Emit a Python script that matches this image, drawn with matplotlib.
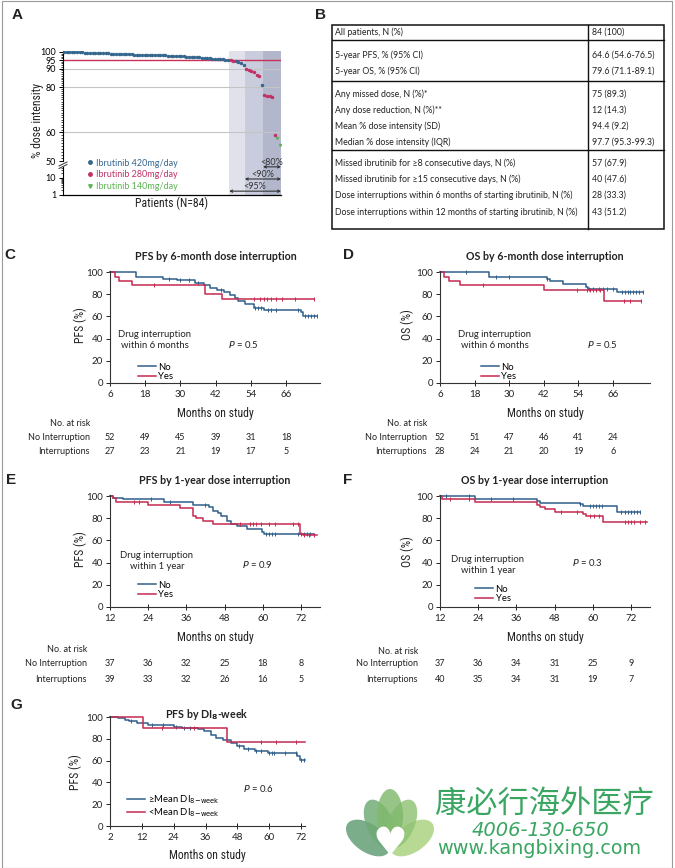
import numpy as np
import matplotlib
matplotlib.use('Agg')
import matplotlib.pyplot as plt
import matplotlib.transforms as mtransforms
from matplotlib import font_manager
from matplotlib.lines import Line2D
from matplotlib.patches import Ellipse, Rectangle
from matplotlib.ticker import FixedLocator, NullFormatter

plt.rcParams['font.family'] = ['Lato', 'DejaVu Sans']
plt.rcParams['mathtext.fontset'] = 'dejavusans'

names = {f.name for f in font_manager.fontManager.ttflist}
COND = 'Lato'
for cand in ['Liberation Sans Narrow', 'Roboto Condensed', 'Open Sans Condensed']:
    if cand in names:
        COND = cand
        break

# ---------------- data ----------------
# A: % dose intensity per patient (sorted) and ibrutinib dose level
dose_intensity = [100.0, 100.0, 99.9, 99.9, 99.8, 99.8, 99.7, 99.7, 99.6, 99.6,
                  99.5, 99.5, 99.4, 99.4, 99.3, 99.3, 99.2, 99.1, 99.0, 99.0,
                  98.9, 98.8, 98.8, 98.7, 98.6, 98.5, 98.4, 98.3, 98.2, 98.1,
                  98.3, 98.2, 98.1, 98.0, 98.0, 97.9, 97.9, 97.8, 97.8, 97.8,
                  97.7, 97.7, 97.6, 97.5, 97.4, 97.3, 97.2, 97.1, 97.0, 97.0,
                  96.9, 96.9, 96.8,
                  96.2, 96.1, 96.0, 96.0, 95.9, 95.8, 95.7, 95.6, 95.5, 95.3,
                  95.0, 94.8, 94.5, 94.2, 93.8, 93.0, 92.0,
                  89.6, 89.3, 88.5, 87.8, 86.5, 86.0,
                  81.0,
                  76.3, 75.8, 75.5, 75.3, 59.0,
                  58.0, 55.5]
dose_level = [420] * 64 + [280, 280, 420, 420, 420, 420] + [280] * 6 + [420] + [280] * 5 + [140, 140]
dose_labels = {420: 'Ibrutinib 420mg/day', 280: 'Ibrutinib 280mg/day', 140: 'Ibrutinib 140mg/day'}
thresholds = [95, 90, 80]
a_major = [50, 60, 80, 90, 95, 100]

# B: summary table
table_labels = ["All patients, N (%)",
                "5-year PFS, % (95% CI)",
                "5-year OS, % (95% CI)",
                "Any missed dose, N (%)*",
                "Any dose reduction, N (%)**",
                "Mean % dose intensity (SD)",
                "Median % dose intensity (IQR)",
                "Missed ibrutinib for \u22658 consecutive days, N (%)",
                "Missed ibrutinib for \u226515 consecutive days, N (%)",
                "Dose interruptions within 6 months of starting ibrutinib, N (%)",
                "Dose interruptions within 12 months of starting ibrutinib, N (%)"]
table_values = ["84 (100)", "64.6 (54.6-76.5)", "79.6 (71.1-89.1)", "75 (89.3)", "12 (14.3)",
                "94.4 (9.2)", "97.7 (95.3-99.3)", "57 (67.9)", "40 (47.6)", "28 (33.3)", "43 (51.2)"]

# KM curves: step times, survival (%), censor times
C_t_no = [6, 15, 24, 29, 35, 38, 40, 42.5, 45, 47, 48.5, 49.5, 52, 55, 58.5, 71, 71.8, 76.5]
C_s_no = [100, 96, 94, 92.5, 90, 88, 86, 84, 82, 79, 77, 74, 71, 68, 66, 64, 60, 60]
C_c_no = [26, 30, 33, 36, 44, 55.5, 56.5, 57.5, 60, 61, 62.5, 70, 72.5, 73.5, 74.5, 75.5, 76.5]
C_t_yes = [6, 7.7, 9, 13.4, 38.5, 44.3, 75.6]
C_s_yes = [100, 96, 92, 88, 80, 76, 76]
C_c_yes = [21, 55, 57, 58.5, 59.5, 61, 62.5, 64.5, 69, 75.6]

D_t_no = [6, 23, 43, 44, 48.5, 56.5, 57.2, 67.5, 76.5]
D_s_no = [100, 96, 94, 92, 89, 87, 85, 82, 82]
D_c_no = [15, 25.5, 30, 43, 57.5, 59, 61, 62.5, 64, 66, 69, 70, 71, 72, 73, 74, 75, 76.5]
D_t_yes = [6, 7.5, 9, 13, 42, 62.8, 75.6]
D_s_yes = [100, 96, 92, 88, 84, 74, 74]
D_c_yes = [21, 53.5, 57, 58, 59, 60, 61.5, 69.8, 72, 75.6]

E_t_no = [12, 13, 16, 29, 38, 43, 44.5, 46, 47, 48.7, 50, 52, 55, 59.7, 60.5, 76]
E_s_no = [100, 98, 97, 95, 92, 90, 87, 85, 82, 78, 75, 73, 70, 68, 66, 66]
E_c_no = [25, 31, 42, 61, 62, 63, 64, 71, 72, 73, 74, 75]
E_t_yes = [12, 13, 14, 24, 34, 38, 39, 41.3, 44.5, 71.7, 72.5, 77]
E_s_yes = [100, 98, 95, 92, 89, 82, 80, 78, 75, 66, 65, 65]
E_c_yes = [19.5, 21, 53, 56, 57, 58, 59.5, 62, 64, 69.5, 71, 73, 74.5, 76]

F_t_no = [12, 23, 42.5, 43.5, 56, 57, 67.5, 75]
F_s_no = [100, 97, 96, 94, 93, 91, 86, 86]
F_c_no = [14, 21, 28, 35, 56, 59, 60, 61, 62, 63, 69, 70, 71, 72, 73, 74, 75]
F_t_yes = [12, 12.5, 23, 42.5, 43.5, 45, 48, 56.8, 58, 63.2, 77]
F_s_yes = [100, 97.5, 95, 92, 90, 88, 86, 84, 82, 77, 77]
F_c_yes = [15, 21, 50, 55, 59, 60.5, 62, 70, 71, 72, 73, 75, 76.5]

G_t_hi = [0, 3, 5.5, 7, 10, 14.5, 24, 27, 33, 35.5, 38, 40, 42.5, 45.5, 48, 50.5, 54.5, 59.5, 70.5, 71.8, 73.5]
G_s_hi = [100, 99, 97, 96, 95, 93, 91, 90, 89, 87, 84, 81, 79, 76, 73, 71, 69, 67, 64, 61, 61]
G_c_hi = [8, 16, 20, 25, 28, 30, 48.5, 52, 55, 57, 60, 61, 62, 66, 70, 72, 73]
G_t_lo = [0, 12.3, 44.2, 73.5]
G_s_lo = [100, 90, 77, 77]
G_c_lo = [19.5, 31.5, 57, 62.5, 70]

# axis ticks
ticks_6 = [6, 18, 30, 42, 54, 66]
ticks_12 = [12, 24, 36, 48, 60, 72]
ticks_g = [0, 12, 24, 36, 48, 60, 72]
ticks_g_labels = ['2', '12', '24', '36', '48', '60', '72']
y_ticks = [0, 20, 40, 60, 80, 100]

# numbers at risk
C_risk = [[52, 49, 45, 39, 31, 18], [27, 23, 21, 19, 17, 5]]
D_risk = [[52, 51, 47, 46, 41, 24], [28, 24, 21, 20, 19, 6]]
E_risk = [[37, 36, 32, 25, 18, 8], [39, 33, 32, 26, 16, 5]]
F_risk = [[37, 36, 34, 31, 25, 9], [40, 35, 34, 31, 19, 7]]

# ---------------- style ----------------
BLUE = '#2f5f8c'
RED = '#c42a50'
A_COL = {420: '#35678f', 280: '#c23068', 140: '#5cb352'}
A_MARK = {420: 'o', 280: 'o', 140: 'v'}
SHADE = ['#e0e1eb', '#c9ccdc', '#b2b7cc']
GREEN_WM = '#3aa662'
TXT = '#222222'

W, H = 675, 868
fig = plt.figure(figsize=(W / 100, H / 100), dpi=100)


def box(x0, y0, x1, y1):
    return [x0 / W, 1 - y1 / H, (x1 - x0) / W, (y1 - y0) / H]


def ftext(x, y, s, **kw):
    kw.setdefault('color', TXT)
    return fig.text(x / W, 1 - y / H, s, **kw)


fig.add_artist(Rectangle((2 / W, 0), 670 / W, 1 - 1 / H, transform=fig.transFigure,
                         fill=False, edgecolor='#9a9a9a', lw=0.8))

# ---------------- panel A ----------------
n_pat = len(dose_intensity)
pat = np.arange(1, n_pat + 1)
vals = np.array(dose_intensity)
lev = np.array(dose_level)

ax_up = fig.add_axes(box(63, 51, 281, 163))
ax_lo = fig.add_axes(box(63, 163, 281, 195))
edges = [pat[np.argmax(vals < t)] - 0.5 for t in thresholds]
for ax in (ax_up, ax_lo):
    ax.set_facecolor('none')
    ax.set_xlim(0.6, n_pat + 0.4)
    ax.set_yscale('log')
    ax.set_xticks([])
    for s in ['top', 'right']:
        ax.spines[s].set_visible(False)
    ax.spines['left'].set_linewidth(0.8)
    # shaded zones of patients below each threshold
    for i, e in enumerate(edges):
        end = edges[i + 1] if i + 1 < len(edges) else n_pat + 0.4
        ax.axvspan(e, end, color=SHADE[i], lw=0, zorder=0)
ax_up.spines['bottom'].set_visible(False)
ax_lo.spines['bottom'].set_linewidth(0.9)
ax_lo.spines['left'].set_bounds(1, 45)

ax_up.set_ylim(49.4, 100.6)
ax_up.spines['left'].set_bounds(50, 100.6)
ax_up.yaxis.set_major_locator(FixedLocator(a_major))
ax_up.set_yticklabels([str(v) for v in a_major])
ax_up.yaxis.set_minor_locator(FixedLocator(np.arange(50, 101, 1)))
ax_up.yaxis.set_minor_formatter(NullFormatter())
ax_up.tick_params(axis='y', which='major', length=3, width=0.7, labelsize=6.5, pad=2)
ax_up.tick_params(axis='y', which='minor', length=1.5, width=0.5)
for g in [90, 80, 60]:
    ax_up.axhline(g, color='#c4c4c4', lw=0.8, zorder=1)
ax_up.axhline(95, color='#c8325a', lw=1.0, zorder=2)
for lv in [420, 280, 140]:
    m = lev == lv
    ax_up.plot(pat[m], vals[m], ls='none', marker=A_MARK[lv], ms=1.5, color=A_COL[lv], zorder=3)

ax_lo.set_ylim(1, 76)
ax_lo.yaxis.set_major_locator(FixedLocator([1, 10]))
ax_lo.set_yticklabels(['1', '10'])
ax_lo.yaxis.set_minor_locator(FixedLocator([2, 3, 4, 5, 6, 7, 8, 9, 20, 30, 40]))
ax_lo.yaxis.set_minor_formatter(NullFormatter())
ax_lo.tick_params(axis='y', which='major', length=3, width=0.7, labelsize=6.5, pad=2)
ax_lo.tick_params(axis='y', which='minor', length=1.5, width=0.5)

# threshold arrows
tr_a = mtransforms.blended_transform_factory(ax_lo.transData, ax_lo.transAxes)
arrow_y = [0.12, 0.5, 0.88]
text_y = [0.26, 0.64, 1.02]
for (t, e), ay, ty in zip(zip(thresholds, edges), arrow_y, text_y):
    ax_lo.annotate('', xy=(e, ay), xytext=(n_pat + 0.4, ay), xycoords=tr_a, textcoords=tr_a,
                   arrowprops=dict(arrowstyle='<->', lw=0.8, color='#333333',
                                   shrinkA=0, shrinkB=0, mutation_scale=4), annotation_clip=False)
    ax_lo.text((e + n_pat + 0.4) / 2, ty, '<%d%%' % t, transform=tr_a, ha='center', va='center',
               fontsize=6.5, color='#333333')

# axis break marks
for dy in (0, 2.5):
    fig.add_artist(Line2D([59 / W, 67 / W], [1 - (166 + dy) / H, 1 - (162 + dy) / H],
                          transform=fig.transFigure, color='#333333', lw=0.7))

handles = [Line2D([], [], ls='none', marker=A_MARK[lv], ms=2.5, color=A_COL[lv]) for lv in [420, 280, 140]]
fig.legend(handles, [dose_labels[lv] for lv in [420, 280, 140]], loc='upper left',
           bbox_to_anchor=(82 / W, 1 - 154 / H), frameon=False, fontsize=6.5,
           handlelength=0.8, handletextpad=0.3, labelspacing=0.3, borderpad=0,
           labelcolor='markerfacecolor')
ftext(37, 120, '% dose intensity', rotation=90, ha='center', va='center', fontsize=8.5, family=COND)
ftext(172, 203, 'Patients (N=84)', ha='center', va='center', fontsize=8.5, family=COND)

# ---------------- panel B ----------------
tb = fig.add_axes(box(331, 24, 664, 229))
tb.set_xlim(331, 664)
tb.set_ylim(229, 24)
tb.axis('off')
tb.add_patch(Rectangle((331.5, 24.5), 332, 204, fill=False, edgecolor='#111111', lw=1.1, clip_on=False))
for yy in [40, 81, 150]:
    tb.plot([331.5, 663.5], [yy, yy], color='#111111', lw=1.0, clip_on=False)
tb.plot([588, 588], [24.5, 228.5], color='#111111', lw=1.0, clip_on=False)
row_y = [32, 55, 71, 94, 110, 126, 142, 163, 179, 195, 212]
for lab, val, yy in zip(table_labels, table_values, row_y):
    tb.text(335, yy, lab, ha='left', va='center', fontsize=6.3, color=TXT)
    tb.text(592, yy, val, ha='left', va='center', fontsize=6.3, color=TXT)

# ---------------- KM panels ----------------


def km_axes(rect, xlim, ticks, ticklabels=None):
    ax = fig.add_axes(box(*rect))
    ax.set_xlim(*xlim)
    ax.set_ylim(0, 101)
    ax.set_xticks(ticks)
    if ticklabels is not None:
        ax.set_xticklabels(ticklabels)
    ax.set_yticks(y_ticks)
    for s in ['top', 'right']:
        ax.spines[s].set_visible(False)
    for s in ['left', 'bottom']:
        ax.spines[s].set_linewidth(0.8)
        ax.spines[s].set_color('#333333')
    ax.tick_params(axis='y', direction='out', length=3, width=0.7, labelsize=7, pad=2, colors=TXT)
    ax.tick_params(axis='x', direction='inout', length=4, width=0.7, labelsize=7, pad=3, colors=TXT)
    return ax


def km_curve(ax, t, s, cens, color):
    line, = ax.step(t, s, where='post', color=color, lw=1.1, clip_on=False)
    idx = np.searchsorted(t, cens, side='right') - 1
    ax.plot(cens, np.asarray(s)[idx], ls='none', marker='|', ms=3.5, mew=0.7, color=color, clip_on=False)
    return line


def km_legend(ax, lines, labels, x, y):
    ax.legend(lines, labels, loc='upper left', bbox_to_anchor=(x / W, 1 - y / H),
              bbox_transform=fig.transFigure, frameon=False, fontsize=6.8, handlelength=1.9,
              handletextpad=0.3, labelspacing=0.05, borderpad=0)


def at_risk(ax, ticks, rows, ys):
    tr = mtransforms.blended_transform_factory(ax.transData, fig.transFigure)
    for vals_r, yy in zip(rows, ys):
        for xx, v in zip(ticks, vals_r):
            ax.text(xx, 1 - yy / H, str(v), transform=tr, ha='center', va='center', fontsize=6.5, color=TXT)


panels = [
    dict(letter='C', lpos=(10, 255), title='PFS by 6-month dose interruption', tpos=(216, 257),
         rect=(110, 271, 320, 383), xlim=(6, 77.6), ticks=ticks_6, ylab='PFS (%)', ylpos=(80, 325),
         xlpos=(215, 413), no=(C_t_no, C_s_no, C_c_no), yes=(C_t_yes, C_s_yes, C_c_yes),
         grp='Drug interruption\nwithin 6 months', gpos=(155, 340), legpos=(133, 358),
         p='0.5', ppos=(243, 345), risk=C_risk, rx=90, ry=(423, 437, 451)),
    dict(letter='D', lpos=(349, 255), title='OS by 6-month dose interruption', tpos=(545, 257),
         rect=(440, 271, 650, 383), xlim=(6, 78.8), ticks=ticks_6, ylab='OS (%)', ylpos=(407, 325),
         xlpos=(545, 413), no=(D_t_no, D_s_no, D_c_no), yes=(D_t_yes, D_s_yes, D_c_yes),
         grp='Drug interruption\nwithin 6 months', gpos=(495, 340), legpos=(476, 358),
         p='0.5', ppos=(602, 345), risk=D_risk, rx=427, ry=(424, 437, 451)),
    dict(letter='E', lpos=(11, 480), title='PFS by 1-year dose interruption', tpos=(215, 481),
         rect=(110, 495, 320, 607), xlim=(12, 78), ticks=ticks_12, ylab='PFS (%)', ylpos=(80, 549),
         xlpos=(215, 637), no=(E_t_no, E_s_no, E_c_no), yes=(E_t_yes, E_s_yes, E_c_yes),
         grp='Drug interruption\nwithin 1 year', gpos=(157, 561), legpos=(133, 576),
         p='0.9', ppos=(257, 564), risk=E_risk, rx=87, ry=(650, 664, 679)),
    dict(letter='F', lpos=(348, 480), title='OS by 1-year dose interruption', tpos=(535, 481),
         rect=(440, 495, 650, 607), xlim=(12, 78), ticks=ticks_12, ylab='OS (%)', ylpos=(407, 552),
         xlpos=(545, 638), no=(F_t_no, F_s_no, F_c_no), yes=(F_t_yes, F_s_yes, F_c_yes),
         grp='Drug interruption\nwithin 1 year', gpos=(488, 565), legpos=(470, 580),
         p='0.3', ppos=(587, 563), risk=F_risk, rx=418, ry=(651, 664, 679)),
]

for p in panels:
    ax = km_axes(p['rect'], p['xlim'], p['ticks'])
    l1 = km_curve(ax, *p['no'], BLUE)
    l2 = km_curve(ax, *p['yes'], RED)
    km_legend(ax, [l1, l2], ['No', 'Yes'], *p['legpos'])
    ftext(*p['lpos'], p['letter'], ha='center', va='center', fontsize=11, fontweight='bold',
          family=['Liberation Sans', 'DejaVu Sans'])
    ftext(*p['tpos'], p['title'], ha='center', va='center', fontsize=7.7, fontweight='bold')
    ftext(*p['ylpos'], p['ylab'], rotation=90, ha='center', va='center', fontsize=8.5, family=COND)
    ftext(*p['xlpos'], 'Months on study', ha='center', va='center', fontsize=8.5, family=COND)
    ftext(*p['gpos'], p['grp'], ha='center', va='center', fontsize=6.8, linespacing=1.2)
    ftext(*p['ppos'], r'$P$ = ' + p['p'], ha='center', va='center', fontsize=6.8)
    ftext(p['rx'], p['ry'][0], 'No. at risk', ha='right', va='center', fontsize=6.5)
    ftext(p['rx'], p['ry'][1], 'No Interruption', ha='right', va='center', fontsize=6.5)
    ftext(p['rx'], p['ry'][2], 'Interruptions', ha='right', va='center', fontsize=6.5)
    at_risk(ax, p['ticks'], p['risk'], p['ry'][1:])

# panel G
axg = km_axes((110, 716, 305, 826), (0, 73.5), ticks_g, ticks_g_labels)
g1 = km_curve(axg, G_t_hi, G_s_hi, G_c_hi, BLUE)
g2 = km_curve(axg, G_t_lo, G_s_lo, G_c_lo, RED)
km_legend(axg, [g1, g2], ['\u2265Mean DI$_{\\mathrm{8\\!-\\!week}}$', '<Mean DI$_{\\mathrm{8\\!-\\!week}}$'], 122, 789)
ftext(16, 705, 'G', ha='center', va='center', fontsize=11, fontweight='bold',
      family=['Liberation Sans', 'DejaVu Sans'])
ftext(207, 714, r'PFS by DI$_{\mathbf{8}}$-week', ha='center', va='center', fontsize=7.7, fontweight='bold')
ftext(75, 772, 'PFS (%)', rotation=90, ha='center', va='center', fontsize=8.5, family=COND)
ftext(207, 856, 'Months on study', ha='center', va='center', fontsize=8.5, family=COND)
ftext(258, 789, r'$P$ = 0.6', ha='center', va='center', fontsize=6.8)

# panel letters A, B
ftext(17, 15, 'A', ha='center', va='center', fontsize=11, fontweight='bold', family=['Liberation Sans', 'DejaVu Sans'])
ftext(321, 15, 'B', ha='center', va='center', fontsize=11, fontweight='bold', family=['Liberation Sans', 'DejaVu Sans'])

# ---------------- watermark ----------------
lg = fig.add_axes(box(343, 784, 439, 862))
lg.set_xlim(343, 439)
lg.set_ylim(862, 784)
lg.set_aspect('equal')
lg.axis('off')
petals = [((368, 838), 28, 50, -55, '#5e9b72'),
          ((412, 838), 28, 50, 55, '#a9d17c'),
          ((380, 824), 27, 52, -24, '#6eaa74'),
          ((401, 824), 27, 52, 24, '#8fc374'),
          ((390, 816), 26, 54, 0, '#80b96d')]
for (cx, cy), w, h, ang, col in petals:
    lg.add_patch(Ellipse((cx, cy), w, h, angle=ang, facecolor=col, edgecolor='none', alpha=0.82))
lg.text(390, 844, '\u2665', ha='center', va='center', fontsize=28, color='white', family='DejaVu Sans')

ftext(435, 804, '康必行海外医疗', ha='left', va='center', fontsize=22.5, color=GREEN_WM,
      family=['Noto Sans CJK SC', 'DejaVu Sans'])
ftext(472, 830, '4006-130-650', ha='left', va='center', fontsize=14, color=GREEN_WM,
      style='italic', family='DejaVu Sans')
ftext(437, 848, 'www.kangbixing.com', ha='left', va='center', fontsize=13.9, color=GREEN_WM,
      family='DejaVu Sans')

fig.savefig('out.png', dpi=100)
